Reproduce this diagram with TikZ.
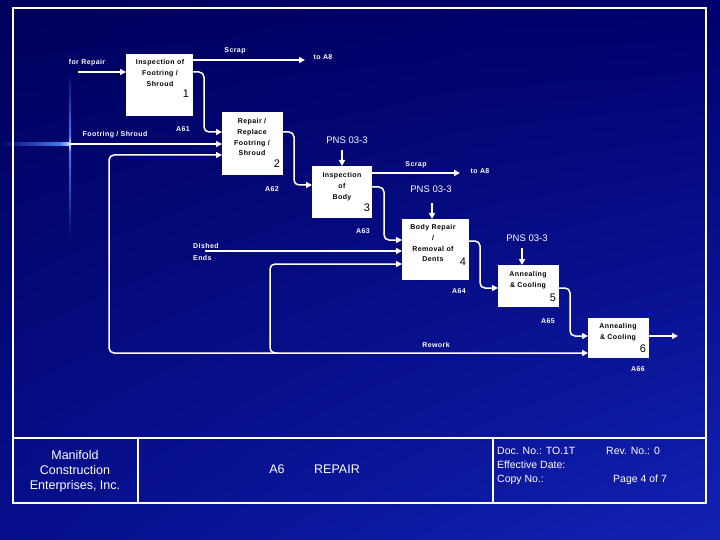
\documentclass[tikz,border=0pt]{standalone}
\usepackage{fontspec}
\setmainfont{Liberation Sans}
\newfontfamily\pix[LetterSpace=6]{Liberation Sans}
\usetikzlibrary{arrows.meta,calc,shadings}
\definecolor{bgUL}{RGB}{0,0,92}
\definecolor{bgUR}{RGB}{0,0,110}
\definecolor{bgLL}{RGB}{6,14,140}
\definecolor{bgLR}{RGB}{18,34,180}
\definecolor{bgTop}{RGB}{0,1,97}
\definecolor{bgRow}{RGB}{1,4,105}
\definecolor{bgMid}{RGB}{3,7,114}
\definecolor{glowB}{RGB}{70,120,240}
\definecolor{glowW}{RGB}{200,220,255}
\tikzset{
  box/.style={fill=white, draw=none, inner sep=0pt, outer sep=0pt, anchor=north west},
  btext/.style={text=black, inner sep=0pt, align=center, font=\pix\bfseries\fontsize{7}{10.7}\selectfont},
  bnum/.style={text=black, inner sep=0pt, font=\fontsize{11}{12}\selectfont},
  lbl/.style={text=white, inner sep=0pt, font=\pix\bfseries\fontsize{7}{8}\selectfont},
  pns/.style={text=white, inner sep=0pt, font=\fontsize{9.5}{11}\selectfont},
  tip/.style={-{Triangle[length=6pt,width=6pt]}},
  conn/.style={draw=white, line width=1.5pt, rounded corners=5pt, tip},
  frame/.style={draw=white, line width=1.8pt},
  ttl/.style={text=white, inner sep=0pt, font=\fontsize{12.5}{15}\selectfont, align=center},
  tsm/.style={text=white, inner sep=0pt, anchor=west, font=\fontsize{10.5}{12}\selectfont},
}
\begin{document}
\begin{tikzpicture}[x=1pt, y=-1pt]
\useasboundingbox (0,0) rectangle (720,540);
% background
\shade[upper left=bgUL, upper right=bgUR, lower left=bgLL, lower right=bgLR] (0,0) rectangle (720,540);
% light flare
\shade[left color=bgRow, right color=glowB] (0,142.9) rectangle (60,145.3);
\shade[left color=glowB, right color=glowW] (60,142.9) rectangle (70,145.3);
\shade[top color=bgTop, bottom color=glowB] (69,70) rectangle (71.2,136);
\shade[top color=glowB, bottom color=glowW] (69,136) rectangle (71.2,143);
\shade[top color=glowW, bottom color=glowB] (69,145) rectangle (71.2,152);
\shade[top color=glowB, bottom color=bgMid] (69,152) rectangle (71.2,240);

% frame and title block
\draw[frame] (13,8) rectangle (706,503);
\draw[frame] (13,438) -- (706,438);
\draw[frame] (138,438) -- (138,503);
\draw[frame] (493,438) -- (493,503);

% boxes
\node[box, minimum width=67pt, minimum height=62pt] (b1) at (126,54) {};
\node[box, minimum width=61pt, minimum height=63pt] (b2) at (222,112) {};
\node[box, minimum width=60pt, minimum height=52pt] (b3) at (312,166) {};
\node[box, minimum width=67pt, minimum height=61pt] (b4) at (402,219) {};
\node[box, minimum width=61pt, minimum height=42pt] (b5) at (498,265) {};
\node[box, minimum width=61pt, minimum height=40pt] (b6) at (588,318) {};

% box texts
\node[btext, anchor=north] (t1) at (160,59.5) {Inspection of\\Footring /\\Shroud};
\node[bnum] (n1) at (186,94) {1};
\node[btext, anchor=north] (t2) at (252,118.5) {Repair /\\Replace\\Footring /\\Shroud};
\node[bnum] (n2) at (277,164) {2};
\node[btext, anchor=north] (t3) at (342,172.5) {Inspection\\of\\Body};
\node[bnum] (n3) at (367,208) {3};
\node[btext, anchor=north] (t4) at (433,224.5) {Body Repair\\/\\Removal of\\Dents};
\node[bnum] (n4) at (463,262) {4};
\node[btext, anchor=north] (t5) at (528,271.5) {Annealing\\\& Cooling};
\node[bnum] (n5) at (553,298) {5};
\node[btext, anchor=north] (t6) at (618,323.5) {Annealing\\\& Cooling};
\node[bnum] (n6) at (643,349) {6};

% labels
\node[lbl] (lfr) at (87,63) {for Repair};
\node[lbl] (lsc1) at (235,51) {Scrap};
\node[lbl] (lta1) at (323,57) {to A8};
\node[lbl] (la61) at (183,129) {A61};
\node[lbl] (lfs) at (115,135) {Footring / Shroud};
\node[pns] (lp1) at (347,140) {PNS 03-3};
\node[lbl] (lsc2) at (416,165) {Scrap};
\node[lbl] (lta2) at (480,171) {to A8};
\node[lbl] (la62) at (272,189) {A62};
\node[pns] (lp2) at (431,189) {PNS 03-3};
\node[lbl] (la63) at (363,231) {A63};
\node[lbl, anchor=west] (lde1) at (193,246) {Dished};
\node[lbl, anchor=west] (lde2) at (193,258) {Ends};
\node[pns] (lp3) at (527,238) {PNS 03-3};
\node[lbl] (la64) at (459,291) {A64};
\node[lbl] (la65) at (548,321) {A65};
\node[lbl] (lrw) at (436,345) {Rework};
\node[lbl] (la66) at (638,369) {A66};

% free ends
\coordinate (sFR) at (78,72);
\coordinate (eS1) at (305,60);
\coordinate (sFS) at (70,144);
\coordinate (sP1) at (342,150);
\coordinate (eS2) at (460,173);
\coordinate (sP2) at (432,203);
\coordinate (sDE) at (205,251);
\coordinate (sP3) at (522,248);
\coordinate (eOut) at (678,336);
\coordinate (cL1) at (109,353);
\coordinate (cL2a) at (278,353);
\coordinate (cL2) at (270,353);

% connectors
\draw[conn] (sFR) -- ($(b1.north west)+(0,18)$);
\draw[conn] ($(b1.north east)+(0,6)$) -- (eS1);
\draw[conn] ($(b1.north east)+(0,18)$) -- ++(11,0) |- ($(b2.north west)+(0,20)$);
\draw[conn] (sFS) -- ($(b2.north west)+(0,32)$);
\draw[conn] ($(b2.north east)+(0,20)$) -- ++(11,0) |- ($(b3.north west)+(0,19)$);
\draw[conn] (sP1) -- (b3.north);
\draw[conn] ($(b3.north east)+(0,7)$) -- (eS2);
\draw[conn] ($(b3.north east)+(0,21)$) -- ++(12,0) |- ($(b4.north west)+(0,21)$);
\draw[conn] (sP2) -- (sP2 |- b4.north);
\draw[conn] (sDE) -- ($(b4.north west)+(0,32)$);
\draw[conn] ($(b4.north east)+(0,22)$) -- ++(11,0) |- ($(b5.north west)+(0,23)$);
\draw[conn] (sP3) -- (sP3 |- b5.north);
\draw[conn] ($(b5.north east)+(0,23)$) -- ++(11,0) |- ($(b6.north west)+(0,18)$);
\draw[conn] ($(b6.north east)+(0,18)$) -- (eOut);
\draw[conn, {Triangle[length=6pt,width=6pt]}-{Triangle[length=6pt,width=6pt]}] ($(b2.north west)+(0,43)$) -| (cL1) -- ($(b6.north west)+(0,35)$);
\draw[conn] (cL2a) -- (cL2) |- ($(b4.north west)+(0,45)$);

% title block texts
\node[ttl] (tco) at (75,471) {Manifold\\Construction\\Enterprises, Inc.};
\node[ttl] (ta6) at (277,469) {A6};
\node[ttl] (trp) at (337,469) {REPAIR};
\node[tsm] (tdoc) at (497,451) {Doc. No.: TO.1T};
\node[tsm] (trev) at (606,451) {Rev. No.: 0};
\node[tsm] (teff) at (497,465) {Effective Date:};
\node[tsm] (tcopy) at (497,480) {Copy No.:};
\node[tsm] (tpage) at (613,480) {Page 4 of 7};
\end{tikzpicture}
\end{document}
